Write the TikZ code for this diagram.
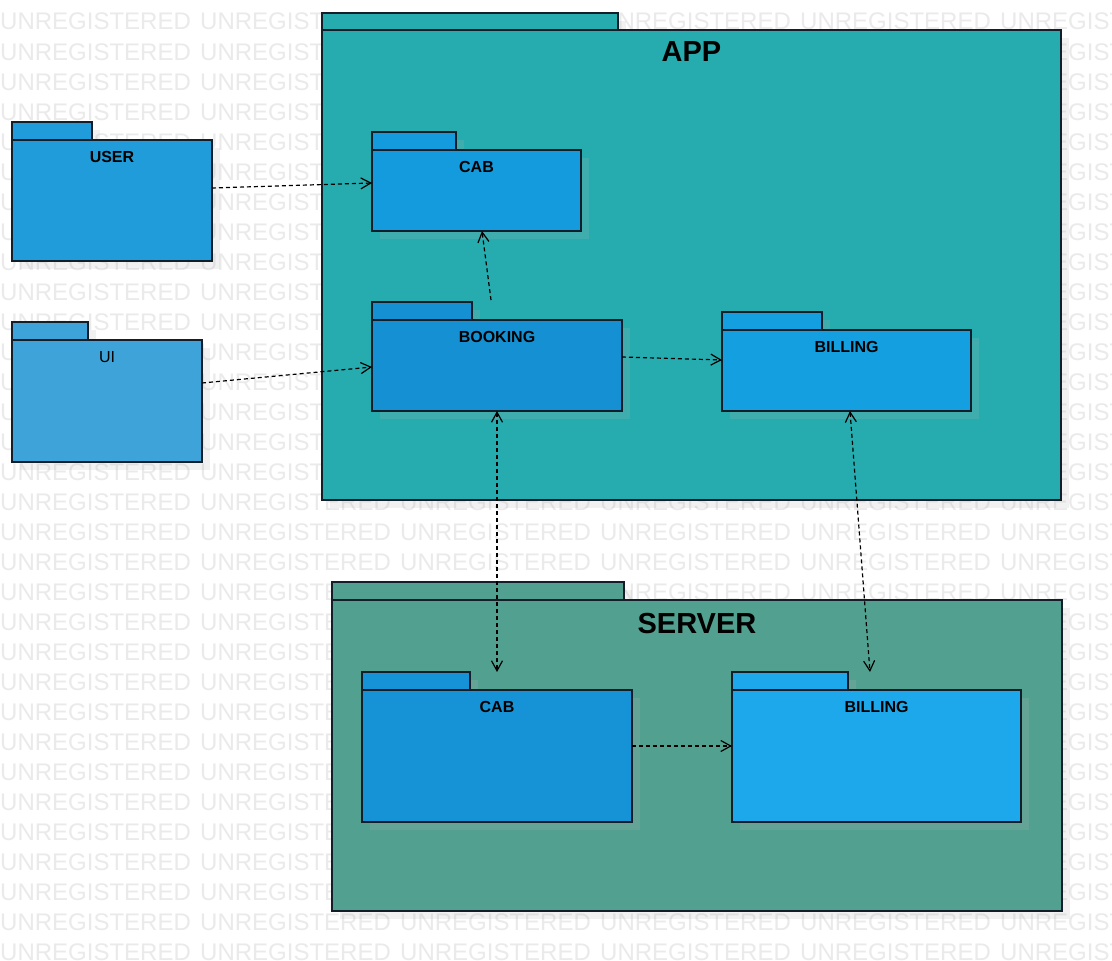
\documentclass[tikz,border=0pt]{standalone}
\usepackage{fontspec}
\setmainfont{Liberation Sans}
\usetikzlibrary{arrows.meta,calc,fit}
\definecolor{wmgray}{RGB}{234,234,234}
\definecolor{shadegray}{RGB}{178,178,178}
\definecolor{appteal}{RGB}{38,171,174}
\definecolor{servergreen}{RGB}{82,161,144}
\definecolor{userblue}{RGB}{33,156,218}
\definecolor{uiblue}{RGB}{61,163,216}
\definecolor{cabblue}{RGB}{19,155,221}
\definecolor{bookingblue}{RGB}{21,145,211}
\definecolor{billingblue}{RGB}{19,159,224}
\definecolor{scabblue}{RGB}{22,147,214}
\definecolor{sbillingblue}{RGB}{30,168,236}
\definecolor{edgedark}{RGB}{20,30,40}
\newcommand{\pkgbox}[8]{%
  \fill[pkgshade] (#4+8,#2+8) rectangle (#3+8,#5+8);
  \fill[pkgshade] (#4+8,#5+8) rectangle (#6+8,#7+8);
  \draw[pkgline, fill=#8] (#4,#2) rectangle (#3,#5);
  \node[pkgbody, fill=#8, fit={(#4,#5) (#6,#7)}] (#1) {};
}
\begin{document}
\begin{tikzpicture}[x=1pt,y=-1pt,
  wm/.style={anchor=base west, inner sep=0pt, text=wmgray, font=\fontsize{24}{24}\selectfont},
  pkgshade/.style={fill=shadegray, fill opacity=0.18},
  pkgline/.style={draw=edgedark, line width=1.3pt},
  pkgbody/.style={draw=edgedark, line width=1.3pt, inner sep=0pt, outer sep=0pt, rectangle},
  lbl/.style={anchor=base, inner sep=0pt, text=black, font=\fontsize{16}{16}\selectfont\bfseries},
  lblplain/.style={anchor=base, inner sep=0pt, text=black, font=\fontsize{16}{16}\selectfont},
  title/.style={anchor=base, inner sep=0pt, text=black, font=\fontsize{29}{29}\selectfont\bfseries},
  dep/.style={draw=black, line width=1.2pt, dash pattern=on 4pt off 3pt, -{Straight Barb[length=10pt,width=11pt]}},
  bidep/.style={draw=black, line width=1.2pt, dash pattern=on 4pt off 3pt, {Straight Barb[length=10pt,width=11pt]}-{Straight Barb[length=10pt,width=11pt]}}
]
\useasboundingbox (0,0) rectangle (1112,961);
\fill[white] (0,0) rectangle (1112,961);
% watermark
\begin{scope}
\clip (0,0) rectangle (1112,961);
\foreach \r in {0,...,31}{
  \foreach \c in {0,...,5}{
    \node[wm] (wm-\r-\c) at (\c*200, 30+\r*30) {UNREGISTERED};
  }
}
\end{scope}
% containers
\pkgbox{app}{13}{618}{322}{30}{1061}{500}{appteal}
\node[title] (app-title) at (691.5,61) {APP};
\pkgbox{server}{582}{624}{332}{600}{1062}{911}{servergreen}
\node[title] (server-title) at (697,633) {SERVER};
% outside packages
\pkgbox{user}{122}{92}{12}{140}{212}{261}{userblue}
\node[lbl] (user-label) at (112,162) {USER};
\pkgbox{ui}{322}{88}{12}{340}{202}{462}{uiblue}
\node[lblplain] (ui-label) at (107,362) {UI};
% app packages
\pkgbox{cab}{132}{456}{372}{150}{581}{231}{cabblue}
\node[lbl] (cab-label) at (476.5,172) {CAB};
\pkgbox{booking}{302}{472}{372}{320}{622}{411}{bookingblue}
\node[lbl] (booking-label) at (497,342) {BOOKING};
\pkgbox{billing}{312}{822}{722}{330}{971}{411}{billingblue}
\node[lbl] (billing-label) at (846.5,352) {BILLING};
% server packages
\pkgbox{scab}{672}{470}{362}{690}{632}{822}{scabblue}
\node[lbl] (scab-label) at (497,712) {CAB};
\pkgbox{sbilling}{672}{848}{732}{690}{1021}{822}{sbillingblue}
\node[lbl] (sbilling-label) at (876.5,712) {BILLING};
% connectors
\draw[dep] ($(user.east)+(0,-12.5)$) -- ($(cab.west)+(0,-7.5)$);
\draw[dep] ($(ui.east)+(0,-18)$) -- ($(booking.west)+(0,1.5)$);
\draw[dep] ($(booking.north)+(-6,-20)$) -- ($(cab.south)+(5.5,0)$);
\draw[dep] ($(booking.east)+(0,-8.5)$) -- ($(billing.west)+(0,-10.5)$);
\draw[bidep] (booking.south) -- ($(scab.north)+(0,-18)$);
\draw[bidep] ($(billing.south)+(3.5,0)$) -- ($(sbilling.north)+(-6.5,-18)$);
\draw[dep] ($(scab.east)+(0,-10)$) -- ($(sbilling.west)+(0,-10)$);
\end{tikzpicture}
\end{document}
